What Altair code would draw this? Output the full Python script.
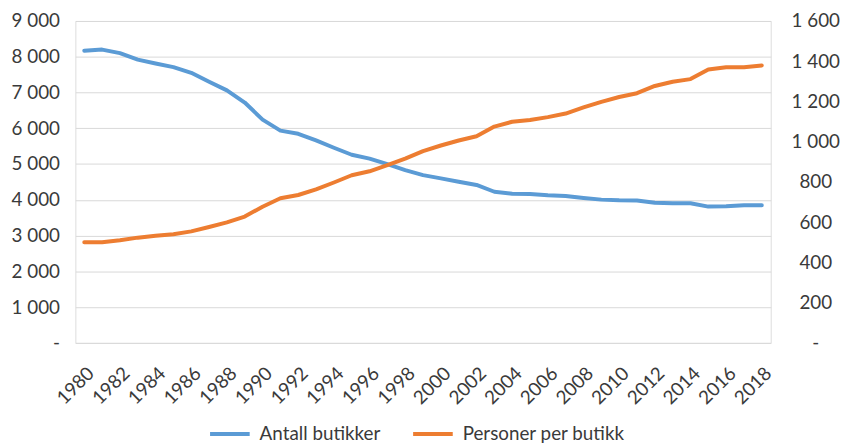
import altair as alt
import pandas as pd

years = list(range(1980, 2019))
antall_butikker = [8170, 8200, 8100, 7920, 7810, 7710, 7550, 7300, 7060, 6720,
                   6240, 5935, 5845, 5660, 5455, 5260, 5150, 4995, 4830, 4690,
                   4600, 4505, 4415, 4225, 4170, 4160, 4125, 4105, 4050, 4005,
                   3985, 3980, 3920, 3905, 3905, 3810, 3820, 3850, 3850]
personer_per_butikk = [500, 500, 510, 523, 532, 540, 554, 576, 599, 628,
                       677, 719, 735, 763, 797, 833, 853, 883, 916, 953,
                       981, 1006, 1027, 1075, 1099, 1108, 1122, 1140, 1170, 1198,
                       1222, 1241, 1277, 1298, 1311, 1359, 1370, 1370, 1379]
series_names = ["Antall butikker", "Personer per butikk"]
series_colors = ["#5B9BD5", "#ED7D31"]
left_ticks = list(range(0, 9001, 1000))
right_ticks = list(range(0, 1601, 200))
x_label_years = list(range(1980, 2019, 2))

df = pd.DataFrame({"year": years, "stores": antall_butikker, "persons": personer_per_butikk})

FONT = "Lato"
TXT = "#3a3a3a"
NB = "\u00a0"

x_enc = alt.X(
    "year:Q",
    scale=alt.Scale(domain=[1979.5, 2018.5], nice=False, zero=False),
    axis=alt.Axis(values=x_label_years, format="d", labelAngle=-45, ticks=False,
                  domain=False, grid=False, title=None, labelFontSize=19,
                  labelPadding=21, labelFont=FONT, labelColor=TXT,
                  labelOverlap=False, labelBound=False, labelFlush=False),
)

color_enc = alt.Color(
    "series:N",
    scale=alt.Scale(domain=series_names, range=series_colors),
    legend=alt.Legend(orient="none", legendX=134, legendY=395, direction="horizontal",
                      title=None, symbolType="stroke", symbolSize=1600,
                      symbolStrokeWidth=4, labelFontSize=19, labelFont=FONT,
                      labelColor=TXT, columnPadding=24, labelOffset=8,
                      labelLimit=400),
)

left = alt.Chart(df).transform_calculate(series="'Antall butikker'").mark_line(
    strokeWidth=4, strokeCap="round", strokeJoin="round"
).encode(
    x=x_enc,
    y=alt.Y("stores:Q", scale=alt.Scale(domain=[0, 9000], nice=False),
            axis=alt.Axis(orient="left", values=left_ticks, title=None, ticks=False,
                          domain=False, grid=True, gridColor="#D9D9D9", gridWidth=1,
                          labelFontSize=19, labelFont=FONT, labelColor=TXT,
                          labelPadding=16,
                          labelExpr="datum.value == 0 ? '-" + NB * 7 + "' : replace(format(datum.value, ','), ',', ' ')")),
    color=color_enc,
)

right = alt.Chart(df).transform_calculate(series="'Personer per butikk'").mark_line(
    strokeWidth=4, strokeCap="round", strokeJoin="round"
).encode(
    x=x_enc,
    y=alt.Y("persons:Q", scale=alt.Scale(domain=[0, 1600], nice=False),
            axis=alt.Axis(orient="right", values=right_ticks, title=None, ticks=False,
                          domain=False, grid=False, labelFontSize=19, labelFont=FONT,
                          labelColor=TXT, labelAlign="center", labelPadding=45,
                          labelExpr="datum.value == 0 ? '-" + NB * 8 + "' : replace(format(datum.value, ','), ',', ' ')")),
    color=color_enc,
)

chart = alt.layer(left, right).resolve_scale(y="independent").properties(
    width=702, height=325,
    autosize=alt.AutoSizeParams(type="none"),
    padding={"left": 68, "top": 11, "right": 74, "bottom": 100},
).configure_view(stroke="transparent", strokeWidth=0).configure(background="white")

chart.save("out.html", embed_options={"renderer": "svg", "actions": False})
